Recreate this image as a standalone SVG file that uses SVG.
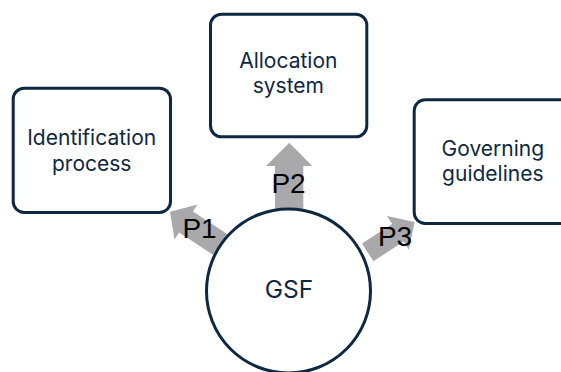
<svg xmlns="http://www.w3.org/2000/svg" width="561" height="372" viewBox="0 0 561 372">
<style>
.box{fill:#ffffff;stroke:#0e2841;stroke-width:3}
.arrow{fill:#a9a9ac;stroke:none}
.ntext{font-family:Inter,"Open Sans","Liberation Sans",sans-serif;font-size:21px;fill:#0e2841;text-anchor:middle}
.ltext{font-family:"Liberation Sans",Arial,sans-serif;font-size:28px;fill:#000000;text-anchor:middle}
</style>
<rect width="561" height="372" fill="#ffffff"/>
<g id="connectors">
<polygon class="arrow" points="170,211.7 197.5,204.4 192.9,211.5 239.7,242.2 225.9,263.2 179.1,232.5 174.5,239.6"/>
<polygon class="arrow" points="289.3,142.7 312.3,166 303.3,166 303.3,215 275,215 275,166 266,166"/>
<polygon class="arrow" points="414.7,221.9 408.8,249.6 403.6,241.6 373.4,261.2 362,243.6 392.2,224 387,216"/>
</g>
<g id="node-identification">
<rect class="box" x="13.2" y="88.2" width="157.3" height="124.3" rx="11"/>
<text class="ntext" x="91.7" y="145">Identification</text>
<text class="ntext" x="91.7" y="170.5">process</text>
</g>
<g id="node-allocation">
<rect class="box" x="210.5" y="14.2" width="156.3" height="122.6" rx="11"/>
<text class="ntext" x="288.3" y="68.3">Allocation</text>
<text class="ntext" x="288.3" y="93">system</text>
</g>
<g id="node-governing">
<rect class="box" x="414.2" y="99.8" width="157" height="123.7" rx="11"/>
<text class="ntext" x="492.8" y="156">Governing</text>
<text class="ntext" x="492.8" y="181">guidelines</text>
</g>
<g id="node-gsf">
<circle class="box" cx="288.5" cy="291" r="82"/>
<text class="ntext" x="289" y="298.3" style="font-size:24.5px">GSF</text>
</g>
<g id="connector-labels">
<text class="ltext" x="199.5" y="238.3">P1</text>
<text class="ltext" x="288.5" y="192.7">P2</text>
<text class="ltext" x="395" y="245.7">P3</text>
</g>
</svg>
